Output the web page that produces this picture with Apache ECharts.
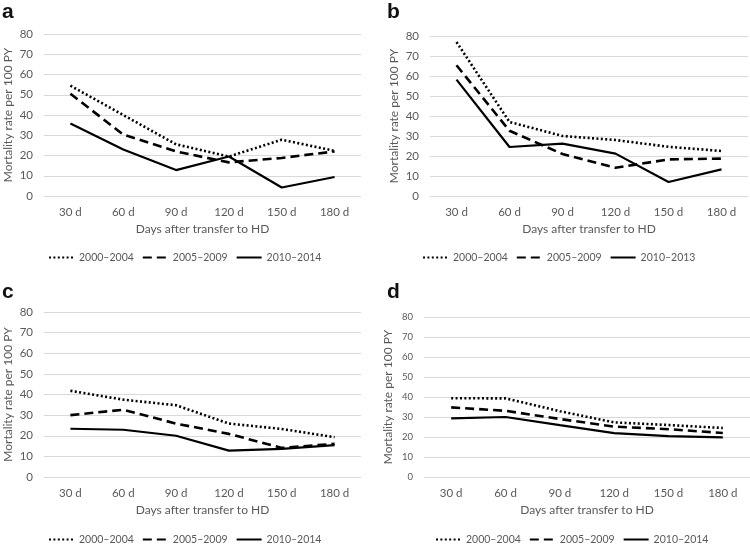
<!DOCTYPE html>
<html>
<head>
<meta charset="utf-8">
<script src="https://cdn.jsdelivr.net/npm/echarts@6/dist/echarts.min.js"></script>
<style>
html,body{margin:0;padding:0;background:#fff;}
#chart{width:750px;height:547px;}
</style>
</head>
<body>
<div id="chart"></div>
<script>
// ---- data ----
var categories = ['30 d', '60 d', '90 d', '120 d', '150 d', '180 d'];
var yTicks = [0, 10, 20, 30, 40, 50, 60, 70, 80];

var a_2000_2004 = [54.5, 40.0, 25.5, 19.5, 27.8, 22.3];
var a_2005_2009 = [50.5, 30.3, 22.0, 16.6, 18.8, 22.0];
var a_2010_2014 = [35.8, 23.0, 12.8, 19.5, 4.2, 9.4];

var b_2000_2004 = [77.0, 37.0, 30.0, 28.0, 24.6, 22.5];
var b_2005_2009 = [65.4, 32.6, 21.0, 14.1, 18.3, 18.7];
var b_2010_2013 = [58.2, 24.5, 26.2, 21.2, 7.0, 13.3];

var c_2000_2004 = [41.8, 37.5, 34.8, 25.9, 23.3, 19.3];
var c_2005_2009 = [30.0, 32.6, 25.9, 20.9, 14.1, 16.1];
var c_2010_2014 = [23.4, 22.9, 20.0, 12.8, 13.6, 15.5];

var d_2000_2004 = [39.4, 39.3, 32.9, 27.3, 26.0, 24.5];
var d_2005_2009 = [34.8, 33.1, 29.0, 25.2, 23.9, 22.0];
var d_2010_2014 = [29.3, 30.0, 25.9, 21.9, 20.4, 19.8];

var panelLetters = ['a', 'b', 'c', 'd'];
var panelSeriesNames = [
  ['2000\u20132004', '2005\u20132009', '2010\u20132014'],
  ['2000\u20132004', '2005\u20132009', '2010\u20132013'],
  ['2000\u20132004', '2005\u20132009', '2010\u20132014'],
  ['2000\u20132004', '2005\u20132009', '2010\u20132014']
];
var panelData = [
  [a_2000_2004, a_2005_2009, a_2010_2014],
  [b_2000_2004, b_2005_2009, b_2010_2013],
  [c_2000_2004, c_2005_2009, c_2010_2014],
  [d_2000_2004, d_2005_2009, d_2010_2014]
];
var xName = 'Days after transfer to HD';
var yName = 'Mortality rate per 100 PY';

// ---- layout/style ----
var FONT = 'Lato';
var TXT = '#595959';
var GRIDC = '#d9d9d9';
var grids = [
  {left: 44, right: 389, top: 34, bottom: 351},
  {left: 430, right: 2, top: 36, bottom: 351},
  {left: 44, right: 389, top: 312, bottom: 70},
  {left: 424, right: 0, top: 317, bottom: 70}
];
var letterPos = [[2, 2], [387, 2], [2, 282], [387, 282]];
var legendPos = [[48, 252], [422, 252], [48, 534], [435, 534]];
var yLabelSize = [11.5, 11.5, 11.5, 9.5];
var lineStyles = [
  {type: [2, 2.4], width: 2.6, color: '#000', cap: 'butt'},
  {type: [9, 5], width: 2.6, color: '#000', cap: 'butt'},
  {type: 'solid', width: 2.2, color: '#000'}
];

var option = {
  animation: false,
  backgroundColor: '#fff',
  textStyle: {fontFamily: FONT},
  grid: grids,
  xAxis: [], yAxis: [], series: [], legend: [], graphic: []
};

for (var p = 0; p < 4; p++) {
  option.xAxis.push({
    type: 'category', gridIndex: p, data: categories, boundaryGap: true,
    axisLine: {show: false}, axisTick: {show: false},
    axisLabel: {color: TXT, fontSize: 11.5, margin: 10, fontFamily: FONT},
    name: xName, nameLocation: 'middle', nameGap: 27,
    nameTextStyle: {color: TXT, fontSize: 12, fontFamily: FONT}
  });
  option.yAxis.push({
    type: 'value', gridIndex: p, min: 0, max: 80, interval: 10,
    axisLine: {show: false}, axisTick: {show: false},
    splitLine: {lineStyle: {color: GRIDC, width: 1}},
    axisLabel: {color: TXT, fontSize: yLabelSize[p], margin: 11, fontFamily: FONT,
      formatter: function (v) { return yTicks.indexOf(v) >= 0 ? String(v) : ''; }},
    name: yName, nameLocation: 'middle', nameGap: 30,
    nameTextStyle: {color: TXT, fontSize: 12, fontFamily: FONT}
  });
  for (var s = 0; s < 3; s++) {
    option.series.push({
      type: 'line', name: panelSeriesNames[p][s],
      xAxisIndex: p, yAxisIndex: p,
      data: panelData[p][s],
      symbol: 'none', showSymbol: false,
      lineStyle: lineStyles[s],
      itemStyle: {color: '#000'},
      z: 3 - s
    });
  }
  option.legend.push({
    data: panelSeriesNames[p].slice(),
    left: legendPos[p][0], top: legendPos[p][1],
    itemWidth: 25, itemHeight: 10, itemGap: 8,
    selectedMode: false, orient: 'horizontal', padding: 0,
    itemStyle: {color: 'rgba(0,0,0,0)', borderColor: 'rgba(0,0,0,0)', borderWidth: 0, opacity: 0},
    textStyle: {color: TXT, fontSize: 10.5, fontFamily: FONT}
  });
  option.graphic.push({
    type: 'text', left: letterPos[p][0], top: letterPos[p][1],
    style: {text: panelLetters[p], fontSize: 21, fontWeight: 'bold',
      fontFamily: 'Liberation Sans', fill: '#111'}
  });
}

var chart = echarts.init(document.getElementById('chart'), null, {renderer: 'canvas'});
chart.setOption(option);
</script>
</body>
</html>
